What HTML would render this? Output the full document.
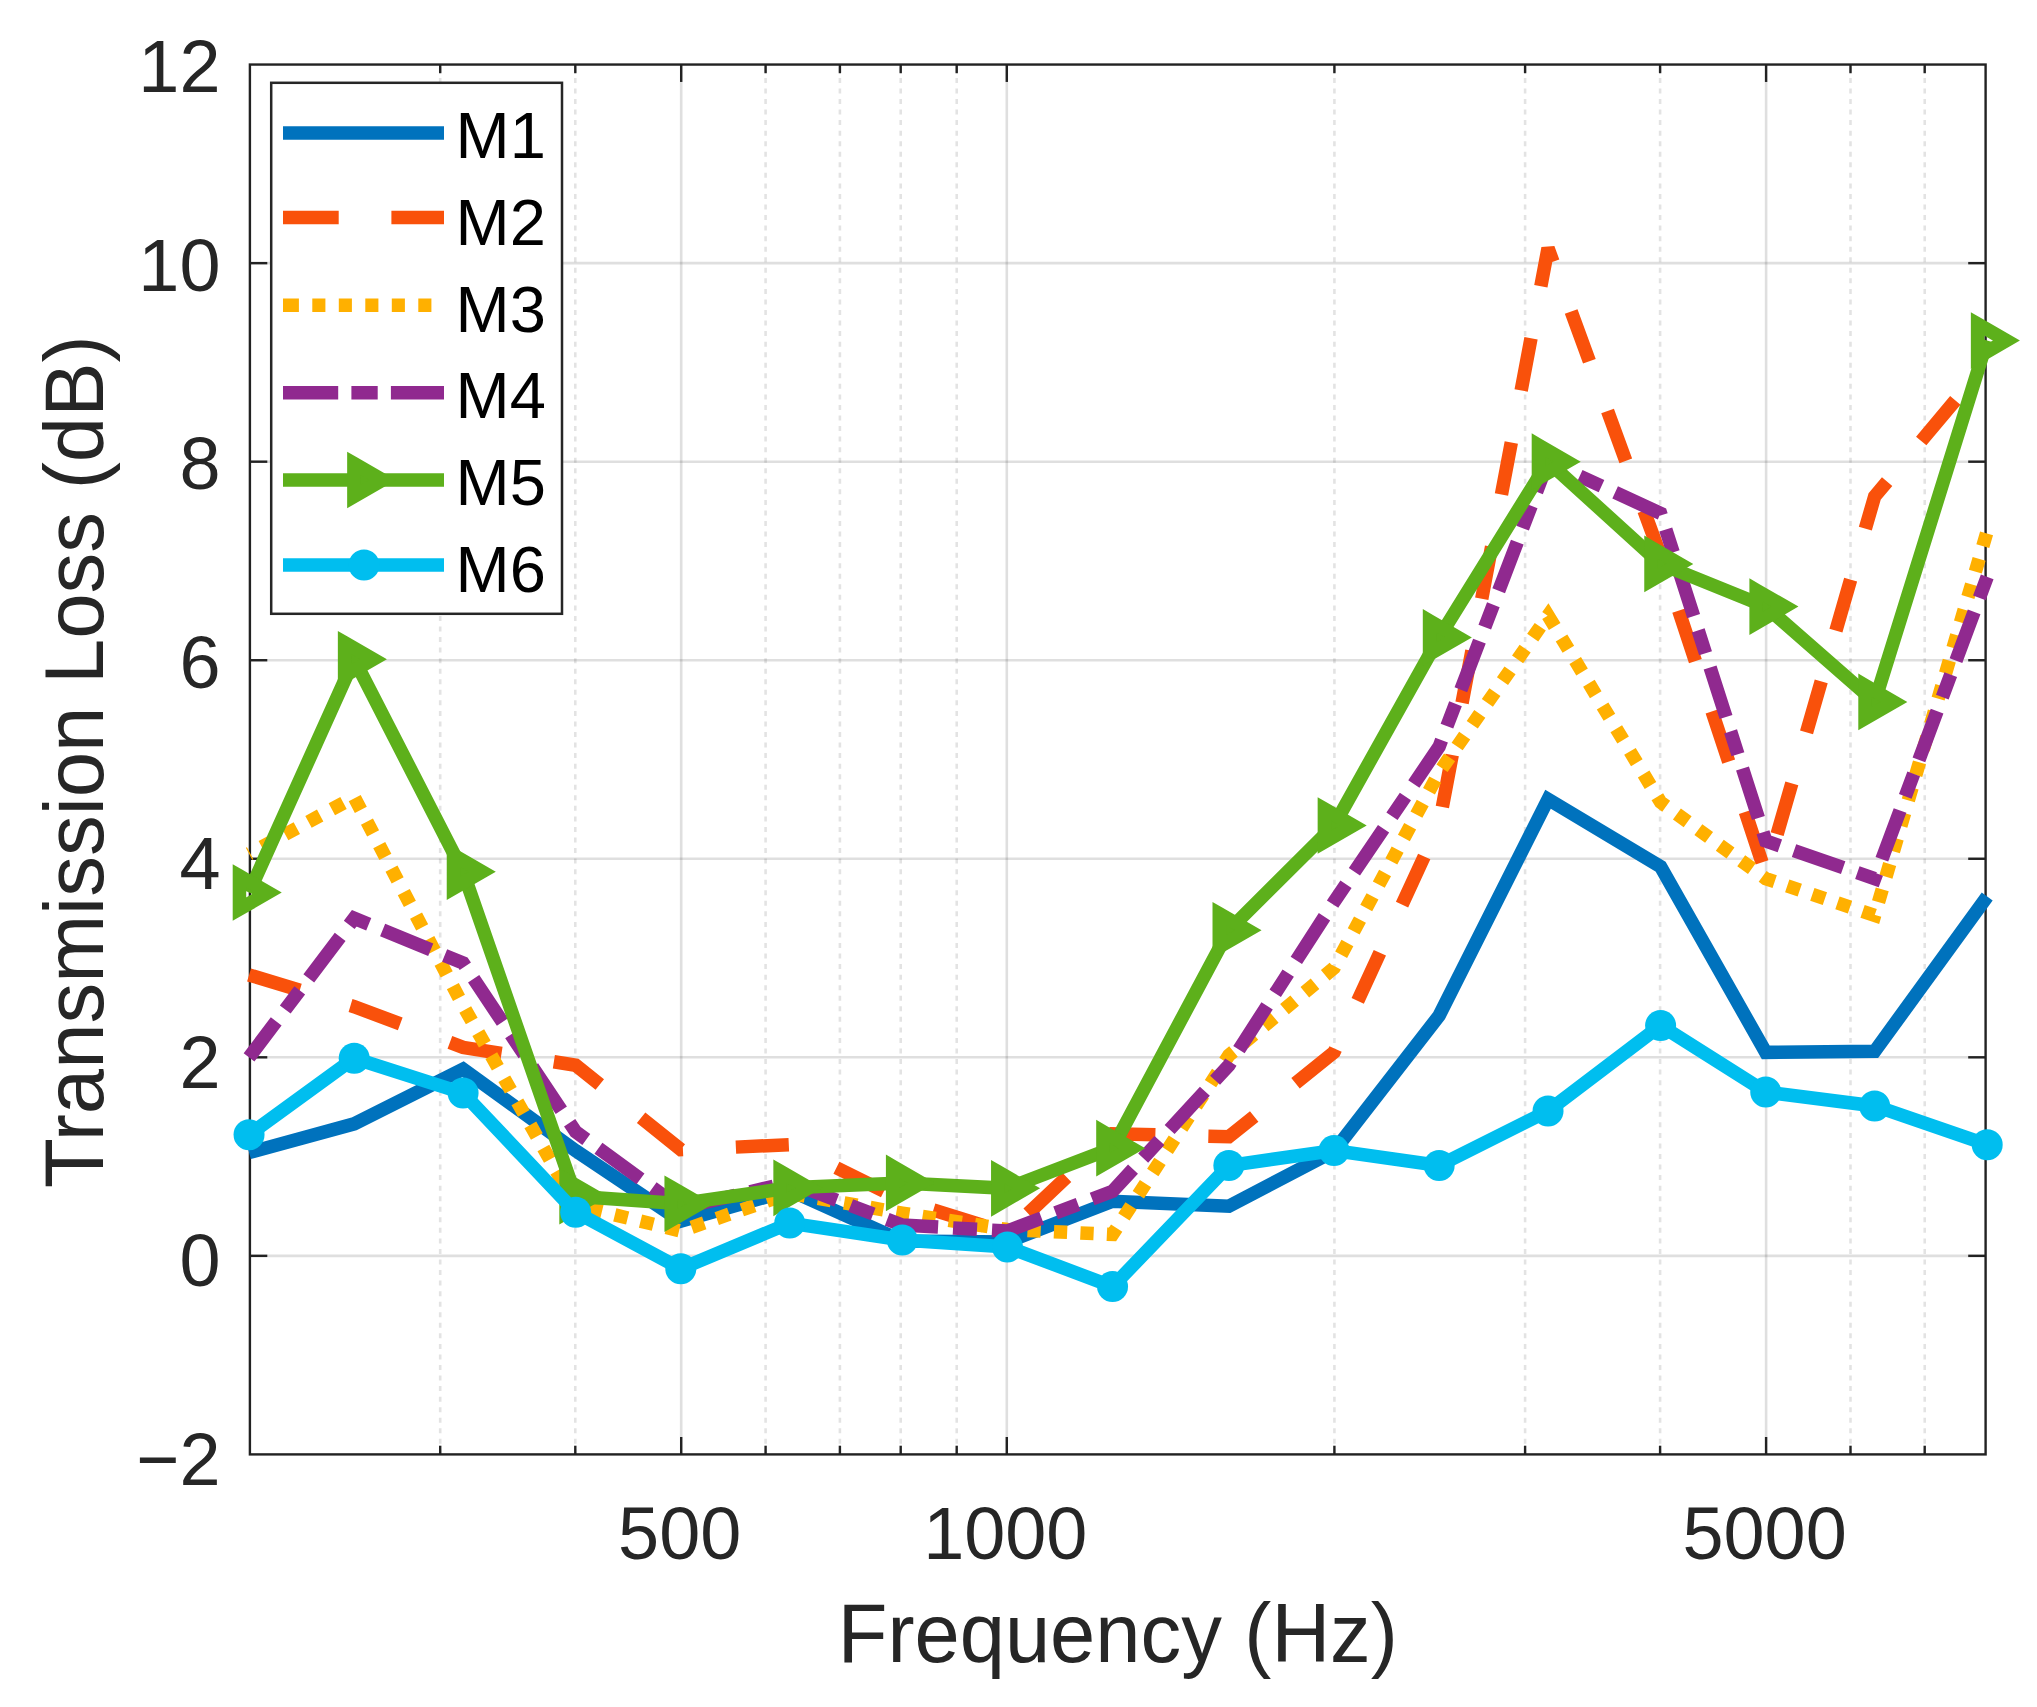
<!DOCTYPE html>
<html><head><meta charset="utf-8"><title>Transmission Loss</title>
<style>html,body{margin:0;padding:0;background:#fff}svg{display:block}text{font-family:"Liberation Sans",Arial,Helvetica,sans-serif}</style></head>
<body>
<svg width="2037" height="1707" viewBox="0 0 2037 1707">
<rect width="2037" height="1707" fill="#fff"/>
<defs><clipPath id="c"><rect x="249.9" y="64.55" width="1735.6999999999998" height="1389.8500000000001"/></clipPath></defs>
<g stroke="#262626" stroke-opacity="0.15" stroke-width="2.6" fill="none">
<line x1="249.9" x2="1985.6" y1="1255.85" y2="1255.85"/>
<line x1="249.9" x2="1985.6" y1="1057.31" y2="1057.31"/>
<line x1="249.9" x2="1985.6" y1="858.77" y2="858.77"/>
<line x1="249.9" x2="1985.6" y1="660.23" y2="660.23"/>
<line x1="249.9" x2="1985.6" y1="461.69" y2="461.69"/>
<line x1="249.9" x2="1985.6" y1="263.15" y2="263.15"/>
<line x1="681.20" x2="681.20" y1="64.55" y2="1454.4"/>
<line x1="1006.80" x2="1006.80" y1="64.55" y2="1454.4"/>
<line x1="1766.10" x2="1766.10" y1="64.55" y2="1454.4"/>
</g>
<g stroke="#262626" stroke-opacity="0.13" stroke-width="2.6" fill="none" stroke-dasharray="5 5.55">
<line x1="440.20" x2="440.20" y1="1454.4" y2="64.55"/>
<line x1="575.30" x2="575.30" y1="1454.4" y2="64.55"/>
<line x1="765.60" x2="765.60" y1="1454.4" y2="64.55"/>
<line x1="839.90" x2="839.90" y1="1454.4" y2="64.55"/>
<line x1="900.70" x2="900.70" y1="1454.4" y2="64.55"/>
<line x1="956.70" x2="956.70" y1="1454.4" y2="64.55"/>
<line x1="1334.40" x2="1334.40" y1="1454.4" y2="64.55"/>
<line x1="1525.10" x2="1525.10" y1="1454.4" y2="64.55"/>
<line x1="1660.10" x2="1660.10" y1="1454.4" y2="64.55"/>
<line x1="1850.50" x2="1850.50" y1="1454.4" y2="64.55"/>
<line x1="1924.70" x2="1924.70" y1="1454.4" y2="64.55"/>
</g>
<g stroke="#222" stroke-width="2.4" fill="none">
<line x1="681.20" x2="681.20" y1="1454.4" y2="1437.0"/>
<line x1="681.20" x2="681.20" y1="64.55" y2="81.94999999999999"/>
<line x1="1006.80" x2="1006.80" y1="1454.4" y2="1437.0"/>
<line x1="1006.80" x2="1006.80" y1="64.55" y2="81.94999999999999"/>
<line x1="1766.10" x2="1766.10" y1="1454.4" y2="1437.0"/>
<line x1="1766.10" x2="1766.10" y1="64.55" y2="81.94999999999999"/>
<line x1="440.20" x2="440.20" y1="1454.4" y2="1445.7"/>
<line x1="440.20" x2="440.20" y1="64.55" y2="73.25"/>
<line x1="575.30" x2="575.30" y1="1454.4" y2="1445.7"/>
<line x1="575.30" x2="575.30" y1="64.55" y2="73.25"/>
<line x1="765.60" x2="765.60" y1="1454.4" y2="1445.7"/>
<line x1="765.60" x2="765.60" y1="64.55" y2="73.25"/>
<line x1="839.90" x2="839.90" y1="1454.4" y2="1445.7"/>
<line x1="839.90" x2="839.90" y1="64.55" y2="73.25"/>
<line x1="900.70" x2="900.70" y1="1454.4" y2="1445.7"/>
<line x1="900.70" x2="900.70" y1="64.55" y2="73.25"/>
<line x1="956.70" x2="956.70" y1="1454.4" y2="1445.7"/>
<line x1="956.70" x2="956.70" y1="64.55" y2="73.25"/>
<line x1="1334.40" x2="1334.40" y1="1454.4" y2="1445.7"/>
<line x1="1334.40" x2="1334.40" y1="64.55" y2="73.25"/>
<line x1="1525.10" x2="1525.10" y1="1454.4" y2="1445.7"/>
<line x1="1525.10" x2="1525.10" y1="64.55" y2="73.25"/>
<line x1="1660.10" x2="1660.10" y1="1454.4" y2="1445.7"/>
<line x1="1660.10" x2="1660.10" y1="64.55" y2="73.25"/>
<line x1="1850.50" x2="1850.50" y1="1454.4" y2="1445.7"/>
<line x1="1850.50" x2="1850.50" y1="64.55" y2="73.25"/>
<line x1="1924.70" x2="1924.70" y1="1454.4" y2="1445.7"/>
<line x1="1924.70" x2="1924.70" y1="64.55" y2="73.25"/>
<line x1="249.9" x2="267.3" y1="1255.85" y2="1255.85"/>
<line x1="1985.6" x2="1968.1999999999998" y1="1255.85" y2="1255.85"/>
<line x1="249.9" x2="267.3" y1="1057.31" y2="1057.31"/>
<line x1="1985.6" x2="1968.1999999999998" y1="1057.31" y2="1057.31"/>
<line x1="249.9" x2="267.3" y1="858.77" y2="858.77"/>
<line x1="1985.6" x2="1968.1999999999998" y1="858.77" y2="858.77"/>
<line x1="249.9" x2="267.3" y1="660.23" y2="660.23"/>
<line x1="1985.6" x2="1968.1999999999998" y1="660.23" y2="660.23"/>
<line x1="249.9" x2="267.3" y1="461.69" y2="461.69"/>
<line x1="1985.6" x2="1968.1999999999998" y1="461.69" y2="461.69"/>
<line x1="249.9" x2="267.3" y1="263.15" y2="263.15"/>
<line x1="1985.6" x2="1968.1999999999998" y1="263.15" y2="263.15"/>
</g>
<rect x="249.9" y="64.55" width="1735.6999999999998" height="1389.8500000000001" fill="none" stroke="#222" stroke-width="2.4"/>
<polyline points="249.05,1152.61 354.20,1123.82 463.09,1069.22 575.66,1150.62 680.80,1221.11 789.70,1190.33 902.26,1240.96 1007.40,1241.95 1112.55,1201.25 1228.86,1206.21 1334.00,1151.12 1439.15,1015.62 1548.04,799.21 1660.61,866.71 1765.75,1052.35 1874.65,1051.35 1987.21,896.49" fill="none" stroke="#0072BD" stroke-width="13.5" stroke-linejoin="miter" stroke-miterlimit="3"/>
<polyline points="249.05,974.92 354.20,1006.68 463.09,1047.38 575.66,1065.25 680.80,1149.63 789.70,1144.67 902.26,1200.26 1007.40,1233.02 1112.55,1133.75 1228.86,1136.73 1334.00,1052.35 1439.15,824.03 1548.04,248.26 1660.61,556.00 1765.75,873.66 1874.65,496.43 1987.21,362.42" fill="none" stroke="#F9510B" stroke-width="13.5" stroke-linejoin="miter" stroke-miterlimit="3" stroke-dasharray="53 53" stroke-dashoffset="0"/>
<polyline points="249.05,853.81 354.20,797.22 463.09,1005.69 575.66,1205.22 680.80,1231.03 789.70,1193.31 902.26,1213.16 1007.40,1229.54 1112.55,1234.41 1228.86,1055.32 1334.00,967.97 1439.15,772.41 1548.04,615.56 1660.61,802.19 1765.75,878.62 1874.65,915.35 1987.21,531.18" fill="none" stroke="#FFB000" stroke-width="13.5" stroke-linejoin="miter" stroke-miterlimit="3" stroke-dasharray="13.25 13.25" stroke-dashoffset="12"/>
<polyline points="249.05,1057.31 354.20,918.33 463.09,963.00 575.66,1131.76 680.80,1208.20 789.70,1182.39 902.26,1225.08 1007.40,1231.03 1112.55,1191.32 1228.86,1065.25 1334.00,901.95 1439.15,746.59 1548.04,461.69 1660.61,513.31 1765.75,840.90 1874.65,878.62 1987.21,576.84" fill="none" stroke="#90298F" stroke-width="13.5" stroke-linejoin="miter" stroke-miterlimit="3" stroke-dasharray="52 15 24 15" stroke-dashoffset="7"/>
<polyline points="249.05,892.52 354.20,659.24 463.09,871.68 575.66,1196.29 680.80,1203.73 789.70,1187.85 902.26,1182.89 1007.40,1188.35 1112.55,1148.14 1228.86,930.24 1334.00,825.51 1439.15,637.40 1548.04,461.69 1660.61,563.94 1765.75,606.62 1874.65,701.92 1987.21,340.58" fill="none" stroke="#5DB01B" stroke-width="13.5" stroke-linejoin="miter" stroke-miterlimit="3"/>
<path d="M239.45,875.89 L268.25,892.52 L239.45,909.15 Z" fill="none" stroke="#5DB01B" stroke-width="13.5" stroke-linejoin="miter" stroke-miterlimit="10"/>
<path d="M344.60,642.61 L373.40,659.24 L344.60,675.86 Z" fill="none" stroke="#5DB01B" stroke-width="13.5" stroke-linejoin="miter" stroke-miterlimit="10"/>
<path d="M453.49,855.05 L482.29,871.68 L453.49,888.30 Z" fill="none" stroke="#5DB01B" stroke-width="13.5" stroke-linejoin="miter" stroke-miterlimit="10"/>
<path d="M566.06,1179.66 L594.86,1196.29 L566.06,1212.92 Z" fill="none" stroke="#5DB01B" stroke-width="13.5" stroke-linejoin="miter" stroke-miterlimit="10"/>
<path d="M671.20,1187.11 L700.00,1203.73 L671.20,1220.36 Z" fill="none" stroke="#5DB01B" stroke-width="13.5" stroke-linejoin="miter" stroke-miterlimit="10"/>
<path d="M780.10,1171.22 L808.90,1187.85 L780.10,1204.48 Z" fill="none" stroke="#5DB01B" stroke-width="13.5" stroke-linejoin="miter" stroke-miterlimit="10"/>
<path d="M892.66,1166.26 L921.46,1182.89 L892.66,1199.51 Z" fill="none" stroke="#5DB01B" stroke-width="13.5" stroke-linejoin="miter" stroke-miterlimit="10"/>
<path d="M997.80,1171.72 L1026.60,1188.35 L997.80,1204.97 Z" fill="none" stroke="#5DB01B" stroke-width="13.5" stroke-linejoin="miter" stroke-miterlimit="10"/>
<path d="M1102.95,1131.51 L1131.75,1148.14 L1102.95,1164.77 Z" fill="none" stroke="#5DB01B" stroke-width="13.5" stroke-linejoin="miter" stroke-miterlimit="10"/>
<path d="M1219.26,913.62 L1248.06,930.24 L1219.26,946.87 Z" fill="none" stroke="#5DB01B" stroke-width="13.5" stroke-linejoin="miter" stroke-miterlimit="10"/>
<path d="M1324.40,808.89 L1353.20,825.51 L1324.40,842.14 Z" fill="none" stroke="#5DB01B" stroke-width="13.5" stroke-linejoin="miter" stroke-miterlimit="10"/>
<path d="M1429.55,620.77 L1458.35,637.40 L1429.55,654.03 Z" fill="none" stroke="#5DB01B" stroke-width="13.5" stroke-linejoin="miter" stroke-miterlimit="10"/>
<path d="M1538.44,445.06 L1567.24,461.69 L1538.44,478.32 Z" fill="none" stroke="#5DB01B" stroke-width="13.5" stroke-linejoin="miter" stroke-miterlimit="10"/>
<path d="M1651.01,547.31 L1679.81,563.94 L1651.01,580.57 Z" fill="none" stroke="#5DB01B" stroke-width="13.5" stroke-linejoin="miter" stroke-miterlimit="10"/>
<path d="M1756.15,590.00 L1784.95,606.62 L1756.15,623.25 Z" fill="none" stroke="#5DB01B" stroke-width="13.5" stroke-linejoin="miter" stroke-miterlimit="10"/>
<path d="M1865.05,685.30 L1893.85,701.92 L1865.05,718.55 Z" fill="none" stroke="#5DB01B" stroke-width="13.5" stroke-linejoin="miter" stroke-miterlimit="10"/>
<path d="M1977.61,323.95 L2006.41,340.58 L1977.61,357.21 Z" fill="none" stroke="#5DB01B" stroke-width="13.5" stroke-linejoin="miter" stroke-miterlimit="10"/>
<polyline points="249.05,1134.74 354.20,1058.30 463.09,1093.05 575.66,1212.17 680.80,1268.76 789.70,1223.09 902.26,1239.97 1007.40,1246.92 1112.55,1286.62 1228.86,1165.51 1334.00,1150.62 1439.15,1165.51 1548.04,1110.92 1660.61,1025.54 1765.75,1092.05 1874.65,1105.95 1987.21,1144.67" fill="none" stroke="#00BEEF" stroke-width="13.5" stroke-linejoin="miter" stroke-miterlimit="3"/>
<circle cx="249.05" cy="1134.74" r="15.5" fill="#00BEEF"/>
<circle cx="354.20" cy="1058.30" r="15.5" fill="#00BEEF"/>
<circle cx="463.09" cy="1093.05" r="15.5" fill="#00BEEF"/>
<circle cx="575.66" cy="1212.17" r="15.5" fill="#00BEEF"/>
<circle cx="680.80" cy="1268.76" r="15.5" fill="#00BEEF"/>
<circle cx="789.70" cy="1223.09" r="15.5" fill="#00BEEF"/>
<circle cx="902.26" cy="1239.97" r="15.5" fill="#00BEEF"/>
<circle cx="1007.40" cy="1246.92" r="15.5" fill="#00BEEF"/>
<circle cx="1112.55" cy="1286.62" r="15.5" fill="#00BEEF"/>
<circle cx="1228.86" cy="1165.51" r="15.5" fill="#00BEEF"/>
<circle cx="1334.00" cy="1150.62" r="15.5" fill="#00BEEF"/>
<circle cx="1439.15" cy="1165.51" r="15.5" fill="#00BEEF"/>
<circle cx="1548.04" cy="1110.92" r="15.5" fill="#00BEEF"/>
<circle cx="1660.61" cy="1025.54" r="15.5" fill="#00BEEF"/>
<circle cx="1765.75" cy="1092.05" r="15.5" fill="#00BEEF"/>
<circle cx="1874.65" cy="1105.95" r="15.5" fill="#00BEEF"/>
<circle cx="1987.21" cy="1144.67" r="15.5" fill="#00BEEF"/>
<rect x="271.2" y="82.8" width="290.8" height="531.0" fill="#fff" stroke="#262626" stroke-width="2.5"/>
<line x1="283" x2="444" y1="133" y2="133" stroke="#0072BD" stroke-width="13.5"/>
<text x="455.5" y="157.5" font-size="65" fill="#000">M1</text>
<line x1="283" x2="444" y1="217.6" y2="217.6" stroke="#F9510B" stroke-width="13.5" stroke-dasharray="55.7 52.7 60"/>
<text x="455.5" y="245.3" font-size="65" fill="#000">M2</text>
<line x1="283" x2="444" y1="305.2" y2="305.2" stroke="#FFB000" stroke-width="13.5" stroke-dasharray="15.9 13.4 13.1 13.4 13.1 13.4 13.1 13.4 13.1 13.4 13.1 100"/>
<text x="455.5" y="332.3" font-size="65" fill="#000">M3</text>
<line x1="283" x2="444" y1="392.65" y2="392.65" stroke="#90298F" stroke-width="13.5" stroke-dasharray="55.2 13.2 26.3 13.2 60"/>
<text x="455.5" y="417.5" font-size="65" fill="#000">M4</text>
<line x1="283" x2="444" y1="480" y2="480" stroke="#5DB01B" stroke-width="13.5"/>
<path d="M353.90,463.37 L382.70,480.00 L353.90,496.63 Z" fill="none" stroke="#5DB01B" stroke-width="13.5" stroke-linejoin="miter" stroke-miterlimit="10"/>
<text x="455.5" y="504.5" font-size="65" fill="#000">M5</text>
<line x1="283" x2="444" y1="565" y2="565" stroke="#00BEEF" stroke-width="13.5"/>
<circle cx="364" cy="565" r="15.5" fill="#00BEEF"/>
<text x="455.5" y="592.2" font-size="65" fill="#000">M6</text>
<g font-size="75" fill="#262626">
<text transform="translate(220.5,1484.6) scale(0.985,1)" text-anchor="end">−2</text>
<text transform="translate(220.5,1286.1) scale(0.985,1)" text-anchor="end">0</text>
<text transform="translate(220.5,1087.6) scale(0.985,1)" text-anchor="end">2</text>
<text transform="translate(220.5,889.0) scale(0.985,1)" text-anchor="end">4</text>
<text transform="translate(220.5,687.7) scale(0.985,1)" text-anchor="end">6</text>
<text transform="translate(220.5,489.1) scale(0.985,1)" text-anchor="end">8</text>
<text transform="translate(220.5,290.6) scale(0.985,1)" text-anchor="end">10</text>
<text transform="translate(220.5,92.1) scale(0.985,1)" text-anchor="end">12</text>
<text transform="translate(679.7,1559.3) scale(0.985,1)" text-anchor="middle">500</text>
<text transform="translate(1005.3,1559.3) scale(0.985,1)" text-anchor="middle">1000</text>
<text transform="translate(1764.6,1559.3) scale(0.985,1)" text-anchor="middle">5000</text>
</g>
<text x="1117.8" y="1661.5" font-size="83.5" fill="#262626" text-anchor="middle" textLength="560" lengthAdjust="spacingAndGlyphs">Frequency (Hz)</text>
<text transform="translate(103,761.7) rotate(-90)" font-size="83.5" fill="#262626" text-anchor="middle" textLength="852.6" lengthAdjust="spacingAndGlyphs">Transmission Loss (dB)</text>
</svg>
</body></html>
